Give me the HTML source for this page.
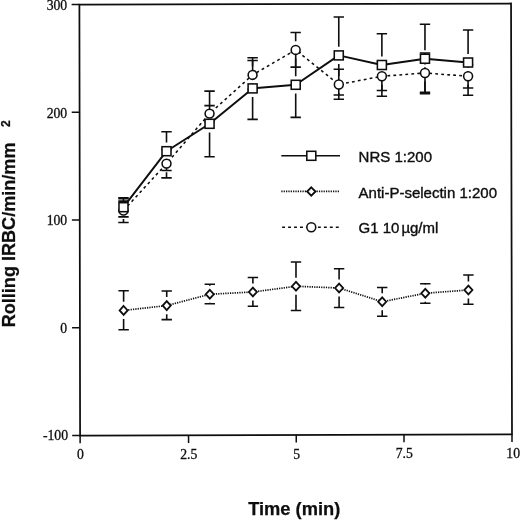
<!DOCTYPE html>
<html lang="en">
<head>
<meta charset="utf-8">
<title>Rolling IRBC chart</title>
<style>
html,body{margin:0;padding:0;background:#fff;}
body{width:520px;height:520px;overflow:hidden;}
svg{display:block;}
</style>
</head>
<body>
<svg width="520" height="520" viewBox="0 0 520 520">
<rect width="520" height="520" fill="#fff"/>
<g stroke="#0e0e0e" fill="none" stroke-linecap="butt">
<polygon points="79.4,4.6 511.05,3.5 512.0,434.3 80.1,435.7" stroke-width="1.75"/>
<line x1="71.60" y1="4.52" x2="79.40" y2="4.50" stroke-width="1.6"/>
<line x1="71.75" y1="112.27" x2="79.55" y2="112.25" stroke-width="1.6"/>
<line x1="71.90" y1="220.02" x2="79.70" y2="220.00" stroke-width="1.6"/>
<line x1="72.05" y1="327.77" x2="79.85" y2="327.75" stroke-width="1.6"/>
<line x1="72.20" y1="435.52" x2="80.00" y2="435.50" stroke-width="1.6"/>
<line x1="80.10" y1="435.70" x2="80.12" y2="443.30" stroke-width="1.5"/>
<line x1="188.53" y1="435.35" x2="188.55" y2="442.95" stroke-width="1.5"/>
<line x1="296.25" y1="435.00" x2="296.27" y2="442.60" stroke-width="1.5"/>
<line x1="403.98" y1="434.65" x2="404.00" y2="442.25" stroke-width="1.5"/>
<line x1="512.00" y1="434.30" x2="512.02" y2="441.90" stroke-width="1.5"/>
</g>
<path d="M123.62 290.70V301.80M123.62 319.00V329.70M118.42 290.70H128.82M118.42 329.70H128.82M166.72 291.00V297.00M166.72 314.20V319.60M161.52 291.00H171.92M161.52 319.60H171.92M209.80 284.25V285.65M209.80 302.85V303.75M204.60 284.25H215.00M204.60 303.75H215.00M252.90 277.50V283.40M252.90 300.60V306.25M247.70 277.50H258.10M247.70 306.25H258.10M295.99 262.00V277.65M295.99 294.85V310.50M290.79 262.00H301.19M290.79 310.50H301.19M339.09 268.75V279.40M339.09 296.60V307.50M333.89 268.75H344.29M333.89 307.50H344.29M382.21 287.50V293.15M382.21 310.35V316.25M377.01 287.50H387.41M377.01 316.25H387.41M425.30 283.75V284.65M425.30 301.85V303.25M420.10 283.75H430.50M420.10 303.25H430.50M468.40 275.00V281.40M468.40 298.60V304.25M463.20 275.00H473.60M463.20 304.25H473.60" stroke="#0e0e0e" stroke-width="1.6" fill="none"/>
<path d="M123.48 215.80V216.90M118.28 201.10H128.68M118.28 216.90H128.68M166.50 131.70V142.60M166.50 159.80V170.50M161.30 131.70H171.70M161.30 170.50H171.70M209.56 91.10V115.20M209.56 132.40V156.70M204.36 91.10H214.76M204.36 156.70H214.76M252.61 57.70V79.80M252.61 97.00V119.40M247.41 57.70H257.81M247.41 119.40H257.81M295.71 52.50V76.20M295.71 93.40V117.40M290.51 52.50H300.91M290.51 117.40H300.91M338.77 17.00V46.80M338.77 64.00V95.00M333.57 17.00H343.97M333.57 95.00H343.97M381.88 33.75V56.40M381.88 73.60V96.20M376.68 33.75H387.08M376.68 96.20H387.08M424.97 24.25V50.15M424.97 67.35V93.70M419.77 24.25H430.17M419.77 93.70H430.17M468.08 30.00V53.90M468.08 71.10V95.30M462.88 30.00H473.28M462.88 95.30H473.28" stroke="#0e0e0e" stroke-width="1.6" fill="none"/>
<path d="M123.48 197.80V201.90M123.48 219.10V222.50M118.28 197.80H128.68M118.28 222.50H128.68M166.52 149.60V155.00M166.52 172.20V177.90M161.32 149.60H171.72M161.32 177.90H171.72M204.35 105.60H214.75M204.35 121.60H214.75M252.59 60.50V66.30M252.59 83.50V89.40M247.39 60.50H257.79M247.39 89.40H257.79M295.66 32.50V41.30M295.66 58.50V67.10M290.46 32.50H300.86M290.46 67.10H300.86M338.81 69.30V75.90M338.81 93.10V99.20M333.61 69.30H344.01M333.61 99.20H344.01M381.90 62.00V67.65M381.90 84.85V90.50M376.70 62.00H387.10M376.70 90.50H387.10M424.99 53.00V64.40M424.99 81.60V92.30M419.79 53.00H430.19M419.79 92.30H430.19M468.10 64.50V67.65M468.10 84.85V88.00M462.90 64.50H473.30M462.90 88.00H473.30" stroke="#0e0e0e" stroke-width="1.6" fill="none"/>
<path d="M118.27 198.7H128.67" stroke="#0e0e0e" stroke-width="1.6" fill="none"/>
<polyline points="123.62,310.40 166.72,305.60 209.80,294.25 252.90,292.00 295.99,286.25 339.09,288.00 382.21,301.75 425.30,293.25 468.40,290.00" stroke="#0e0e0e" stroke-width="1.7" stroke-dasharray="1.25 1.1" fill="none"/>
<path d="M123.62 306.00L127.62 310.40L123.62 314.80L119.62 310.40Z" fill="#fff" stroke="#0e0e0e" stroke-width="1.85"/>
<path d="M166.72 301.20L170.72 305.60L166.72 310.00L162.72 305.60Z" fill="#fff" stroke="#0e0e0e" stroke-width="1.85"/>
<path d="M209.80 289.85L213.80 294.25L209.80 298.65L205.80 294.25Z" fill="#fff" stroke="#0e0e0e" stroke-width="1.85"/>
<path d="M252.90 287.60L256.90 292.00L252.90 296.40L248.90 292.00Z" fill="#fff" stroke="#0e0e0e" stroke-width="1.85"/>
<path d="M295.99 281.85L299.99 286.25L295.99 290.65L291.99 286.25Z" fill="#fff" stroke="#0e0e0e" stroke-width="1.85"/>
<path d="M339.09 283.60L343.09 288.00L339.09 292.40L335.09 288.00Z" fill="#fff" stroke="#0e0e0e" stroke-width="1.85"/>
<path d="M382.21 297.35L386.21 301.75L382.21 306.15L378.21 301.75Z" fill="#fff" stroke="#0e0e0e" stroke-width="1.85"/>
<path d="M425.30 288.85L429.30 293.25L425.30 297.65L421.30 293.25Z" fill="#fff" stroke="#0e0e0e" stroke-width="1.85"/>
<path d="M468.40 285.60L472.40 290.00L468.40 294.40L464.40 290.00Z" fill="#fff" stroke="#0e0e0e" stroke-width="1.85"/>
<polyline points="123.48,210.50 166.52,163.60 209.55,113.60 252.59,74.90 295.66,49.90 338.81,84.50 381.90,76.25 424.99,73.00 468.10,76.25" stroke="#0e0e0e" stroke-width="1.55" stroke-dasharray="2.8 3.2" fill="none"/>
<circle cx="123.48" cy="210.50" r="4.45" fill="#fff" stroke="#0e0e0e" stroke-width="1.55"/>
<circle cx="166.52" cy="163.60" r="4.45" fill="#fff" stroke="#0e0e0e" stroke-width="1.55"/>
<circle cx="209.55" cy="113.60" r="4.45" fill="#fff" stroke="#0e0e0e" stroke-width="1.55"/>
<circle cx="252.59" cy="74.90" r="4.45" fill="#fff" stroke="#0e0e0e" stroke-width="1.55"/>
<circle cx="295.66" cy="49.90" r="4.45" fill="#fff" stroke="#0e0e0e" stroke-width="1.55"/>
<circle cx="338.81" cy="84.50" r="4.45" fill="#fff" stroke="#0e0e0e" stroke-width="1.55"/>
<circle cx="381.90" cy="76.25" r="4.45" fill="#fff" stroke="#0e0e0e" stroke-width="1.55"/>
<circle cx="424.99" cy="73.00" r="4.45" fill="#fff" stroke="#0e0e0e" stroke-width="1.55"/>
<circle cx="468.10" cy="76.25" r="4.45" fill="#fff" stroke="#0e0e0e" stroke-width="1.55"/>
<polyline points="123.48,207.20 166.50,151.20 209.56,123.80 252.61,88.40 295.71,84.80 338.77,55.40 381.88,65.00 424.97,58.75 468.08,62.50" stroke="#0e0e0e" stroke-width="1.95" fill="none" stroke-linejoin="round"/>
<rect x="118.98" y="202.70" width="9.0" height="9.0" fill="#fff" stroke="#0e0e0e" stroke-width="1.55"/>
<rect x="162.00" y="146.70" width="9.0" height="9.0" fill="#fff" stroke="#0e0e0e" stroke-width="1.55"/>
<rect x="205.06" y="119.30" width="9.0" height="9.0" fill="#fff" stroke="#0e0e0e" stroke-width="1.55"/>
<rect x="248.11" y="83.90" width="9.0" height="9.0" fill="#fff" stroke="#0e0e0e" stroke-width="1.55"/>
<rect x="291.21" y="80.30" width="9.0" height="9.0" fill="#fff" stroke="#0e0e0e" stroke-width="1.55"/>
<rect x="334.27" y="50.90" width="9.0" height="9.0" fill="#fff" stroke="#0e0e0e" stroke-width="1.55"/>
<rect x="377.38" y="60.50" width="9.0" height="9.0" fill="#fff" stroke="#0e0e0e" stroke-width="1.55"/>
<rect x="420.47" y="54.25" width="9.0" height="9.0" fill="#fff" stroke="#0e0e0e" stroke-width="1.55"/>
<rect x="463.58" y="58.00" width="9.0" height="9.0" fill="#fff" stroke="#0e0e0e" stroke-width="1.55"/>
<line x1="281.3" y1="155.8" x2="340" y2="155.8" stroke="#0e0e0e" stroke-width="1.45"/>
<rect x="306.80" y="151.30" width="9.0" height="9.0" fill="#fff" stroke="#0e0e0e" stroke-width="1.55"/>
<line x1="281.3" y1="191.3" x2="340" y2="191.3" stroke="#0e0e0e" stroke-width="1.7" stroke-dasharray="1.25 1.1"/>
<path d="M311.30 187.30L315.50 191.50L311.30 195.70L307.10 191.50Z" fill="#fff" stroke="#0e0e0e" stroke-width="1.85"/>
<line x1="282.1" y1="227.2" x2="338.8" y2="227.2" stroke="#0e0e0e" stroke-width="1.45" stroke-dasharray="2.9 3.07"/>
<circle cx="311.30" cy="227.20" r="4.45" fill="#fff" stroke="#0e0e0e" stroke-width="1.55"/>
<g fill="#0e0e0e" font-family="'Liberation Sans', Arial, Helvetica, sans-serif" font-size="15" stroke="#0e0e0e" stroke-width="0.38">
<text x="358.6" y="161.7">NRS 1:200</text>
<text x="358.6" y="197.5">Anti-P-selectin 1:200</text>
<text x="358.6" y="232.8">G1 10<tspan dx="1.9">µg/ml</tspan></text>
</g>
<g fill="#0e0e0e" font-family="'Liberation Serif', 'Times New Roman', serif" font-size="13.7" stroke="#0e0e0e" stroke-width="0.3">
<text x="67.2" y="9.8" text-anchor="end">300</text>
<text x="67.2" y="117.5" text-anchor="end">200</text>
<text x="67.2" y="225.3" text-anchor="end">100</text>
<text x="67.2" y="333.0" text-anchor="end">0</text>
<text x="68.0" y="440.4" text-anchor="end">-100</text>
<text x="80.4" y="459.4" text-anchor="middle">0</text>
<text x="188.8" y="459.0" text-anchor="middle">2.5</text>
<text x="296.6" y="458.7" text-anchor="middle">5</text>
<text x="404.3" y="458.3" text-anchor="middle">7.5</text>
<text x="513.2" y="458.0" text-anchor="middle">10</text>
</g>
<g fill="#0e0e0e" font-family="'Liberation Sans', Arial, Helvetica, sans-serif" font-weight="bold" stroke="#0e0e0e" stroke-width="0.25">
<text x="248.2" y="515" font-size="18.3">Time (min)</text>
<text transform="translate(15,327.3) rotate(-90)" font-size="18.08">Rolling IRBC/min/mm</text>
<text transform="translate(9.7,126.9) rotate(-90)" font-size="12.1">2</text>
</g>
</svg>
</body>
</html>
